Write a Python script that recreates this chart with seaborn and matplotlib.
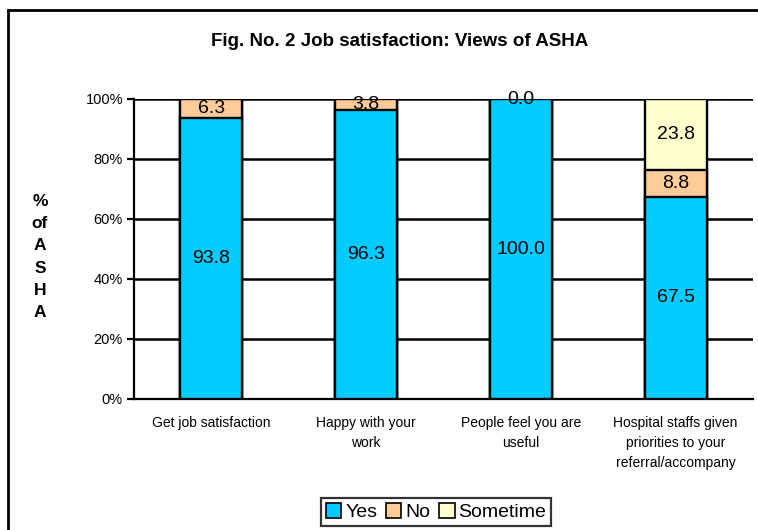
import numpy as np
import pandas as pd
import matplotlib
matplotlib.use("Agg")
import matplotlib.pyplot as plt
from matplotlib.patches import Patch, Rectangle
import seaborn as sns

categories = ["Get job satisfaction", "Happy with your\nwork",
              "People feel you are\nuseful",
              "Hospital staffs given\npriorities to your\nreferral/accompany"]
yes_vals = [93.8, 96.3, 100.0, 67.5]
no_vals = [6.3, 3.8, 0.0, 8.8]
sometime_vals = [np.nan, np.nan, np.nan, 23.8]
y_ticks = [0, 20, 40, 60, 80, 100]
y_tick_labels = ["0%", "20%", "40%", "60%", "80%", "100%"]

c_yes, c_no, c_some = "#00CCFF", "#FFCC99", "#FFFFCC"

sns.set_theme(style="white")
plt.rcParams["font.family"] = ["Liberation Sans", "DejaVu Sans"]
plt.rcParams["text.color"] = "black"
plt.rcParams["xtick.color"] = "black"
plt.rcParams["ytick.color"] = "black"
plt.rcParams["axes.labelcolor"] = "black"

fig = plt.figure(figsize=(7.58, 5.30), dpi=100)
ax = fig.add_axes([134/758, 1-399/530, (753-134)/758, 300/530])

yes = np.array(yes_vals)
no = np.array(no_vals)
some = np.nan_to_num(np.array(sometime_vals))
total = yes + no + some
cum_yes = yes / total * 100
cum_no = (yes + no) / total * 100
cum_some = (yes + no + some) / total * 100

df = pd.DataFrame({"cat": categories, "yes": cum_yes, "no": cum_no, "some": cum_some})
for col, color in [("some", c_some), ("no", c_no), ("yes", c_yes)]:
    sns.barplot(data=df, x="cat", y=col, color=color, width=0.4,
                edgecolor="black", linewidth=1.7, saturation=1, ax=ax, zorder=3)

# value labels
for i in range(len(categories)):
    ax.text(i, cum_yes[i] / 2, f"{yes_vals[i]:.1f}", ha="center", va="center",
            fontsize=14, zorder=5)
    ax.text(i, (cum_yes[i] + cum_no[i]) / 2, f"{no_vals[i]:.1f}", ha="center",
            va="center", fontsize=14, zorder=5)
    if not np.isnan(sometime_vals[i]):
        ax.text(i, (cum_no[i] + cum_some[i]) / 2, f"{sometime_vals[i]:.1f}",
                ha="center", va="center", fontsize=14, zorder=5)

ax.set_ylim(0, 100)
ax.set_xlim(-0.5, len(categories) - 0.5)
ax.set_yticks(y_ticks)
ax.set_yticklabels(y_tick_labels, fontsize=10.5)
ax.set_xticks(range(len(categories)))
ax.set_xticklabels(categories, fontsize=10, linespacing=1.55, va="top")
ax.set_xticks(np.arange(-0.5, len(categories)), minor=True)
ax.tick_params(axis="x", which="major", length=0, pad=12)
ax.tick_params(axis="x", which="minor", length=5, width=1.6, color="black", direction="out")
ax.tick_params(axis="y", length=5, width=1.6, color="black", direction="out", left=True, pad=3)
for y in y_ticks[1:]:
    ax.axhline(y, color="black", linewidth=1.8, zorder=1)
ax.set_xlabel("")
ax.set_ylabel("")
for s in ["top", "right"]:
    ax.spines[s].set_visible(False)
for s in ["left", "bottom"]:
    ax.spines[s].set_color("black")
    ax.spines[s].set_linewidth(1.6)
ax.grid(False)

fig.text(400/758, 1-42/530, "Fig. No. 2 Job satisfaction: Views of ASHA",
         ha="center", va="center", fontsize=13.5, fontweight="bold")
fig.text(40/758, 1-257/530, "%\nof\nA\nS\nH\nA", ha="center", va="center",
         fontsize=12.5, fontweight="bold", linespacing=1.6)

handles = [Patch(facecolor=c_yes, edgecolor="black", linewidth=1.2, label="Yes"),
           Patch(facecolor=c_no, edgecolor="black", linewidth=1.2, label="No"),
           Patch(facecolor=c_some, edgecolor="black", linewidth=1.2, label="Sometime")]
leg = fig.legend(handles=handles, loc="center", bbox_to_anchor=(436/758, 1-512/530),
                 ncol=3, fontsize=14, frameon=True, fancybox=False,
                 handlelength=0.8, handleheight=0.8, handletextpad=0.2,
                 columnspacing=0.45, borderpad=0.25, borderaxespad=0)
leg.get_frame().set_edgecolor("black")
leg.get_frame().set_linewidth(1.6)

fig.patches.append(Rectangle((8/758, -0.05), 1.1, 1 - 10/530 + 0.05,
                             transform=fig.transFigure, fill=False,
                             edgecolor="black", linewidth=2, zorder=0))

fig.savefig("out.png", dpi=100)
